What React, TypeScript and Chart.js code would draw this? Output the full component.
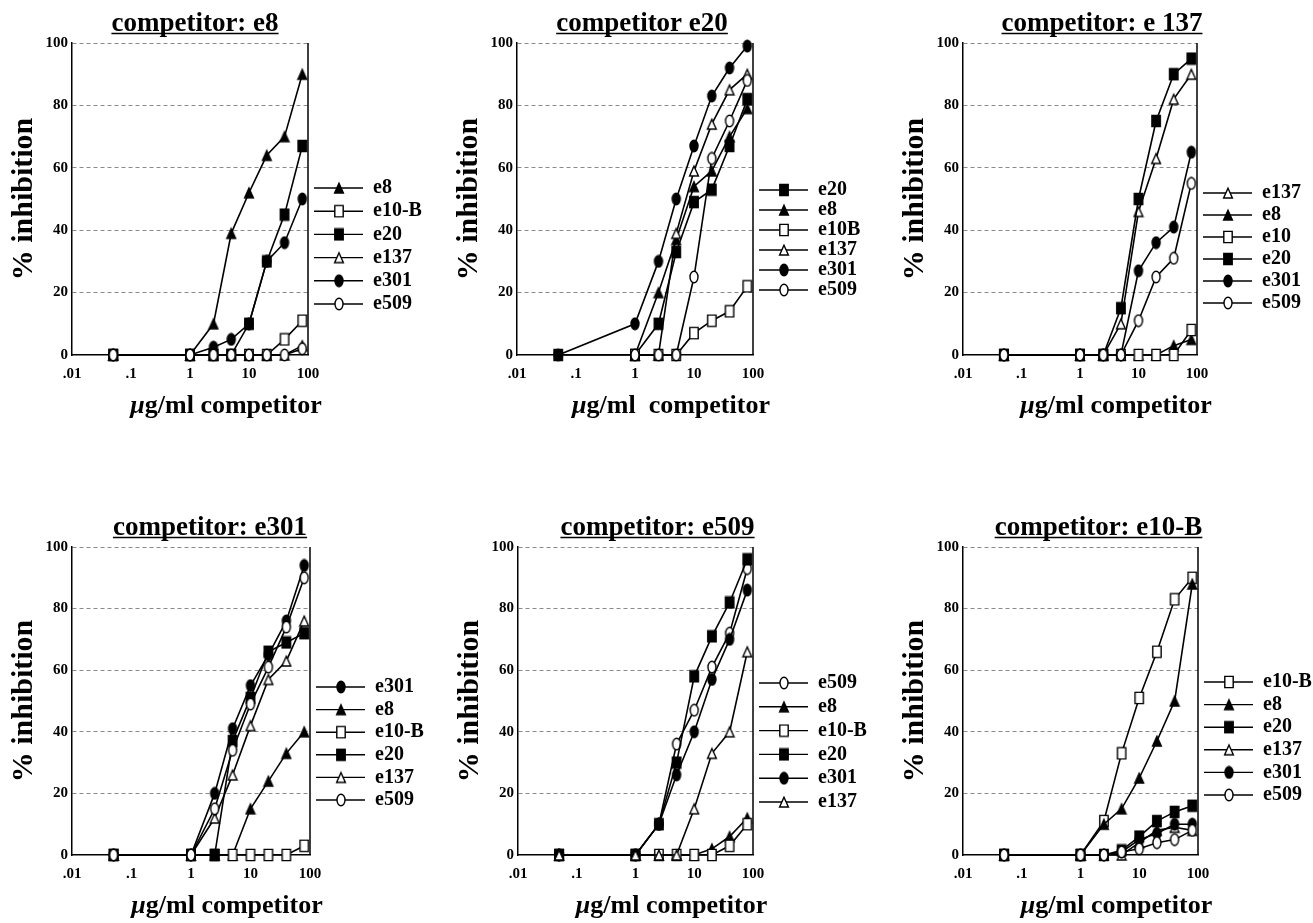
import React, { useEffect, useRef } from 'react';
import { Chart, registerables } from 'chart.js';

Chart.register(...registerables);

const FONT = '"Liberation Serif", "Times New Roman", serif';

// ---- shared axis data ----
const doses = [0.05, 1, 2.5, 5, 10, 20, 40, 80];
const xTickValues = [0.01, 0.1, 1, 10, 100];
const xTickLabels = ['.01', '.1', '1', '10', '100'];
const yTickValues = [0, 20, 40, 60, 80, 100];
const yAxisTitle = '% inhibition';

// ---- panel 1: competitor e8 ----
const p1Title = 'competitor: e8';
const p1XTitle = 'μg/ml competitor';
const p1Labels = ['e8', 'e10-B', 'e20', 'e137', 'e301', 'e509'];
const p1E8 = [0, 0, 10, 39, 52, 64, 70, 90];
const p1E10B = [0, 0, 0, 0, 0, 0, 5, 11];
const p1E20 = [0, 0, 0, 0, 10, 30, 45, 67];
const p1E137 = [0, 0, 0, 0, 0, 0, 0, 3];
const p1E301 = [0, 0, 2.5, 5, 10, 30, 36, 50];
const p1E509 = [0, 0, 0, 0, 0, 0, 0, 2];

// ---- panel 2: competitor e20 ----
const p2Title = 'competitor e20';
const p2XTitle = 'μg/ml  competitor';
const p2Labels = ['e20', 'e8', 'e10B', 'e137', 'e301', 'e509'];
const p2E20 = [0, 0, 10, 33, 49, 53, 67, 82];
const p2E8 = [null, 0, 20, 37, 54, 59, 70, 79];
const p2E10B = [null, 0, 0, 0, 7, 11, 14, 22];
const p2E137 = [null, 0, 0, 39, 59, 74, 85, 90];
const p2E301 = [0, 10, 30, 50, 67, 83, 92, 99];
const p2E509 = [null, 0, 0, 0, 25, 63, 75, 88];

// ---- panel 3: competitor e137 ----
const p3Title = 'competitor: e 137';
const p3XTitle = 'μg/ml competitor';
const p3Labels = ['e137', 'e8', 'e10', 'e20', 'e301', 'e509'];
const p3E137 = [0, 0, 0, 10, 46, 63, 82, 90];
const p3E8 = [0, 0, 0, 0, 0, 0, 3, 5];
const p3E10 = [0, 0, 0, 0, 0, 0, 0, 8];
const p3E20 = [0, 0, 0, 15, 50, 75, 90, 95];
const p3E301 = [0, 0, 0, 0, 27, 36, 41, 65];
const p3E509 = [0, 0, 0, 0, 11, 25, 31, 55];

// ---- panel 4: competitor e301 ----
const p4Title = 'competitor: e301';
const p4XTitle = 'μg/ml competitor';
const p4Labels = ['e301', 'e8', 'e10-B', 'e20', 'e137', 'e509'];
const p4E301 = [0, 0, 20, 41, 55, 65, 76, 94];
const p4E8 = [0, 0, 0, 0, 15, 24, 33, 40];
const p4E10B = [0, 0, 0, 0, 0, 0, 0, 3];
const p4E20 = [0, 0, 0, 37, 51, 66, 69, 72];
const p4E137 = [0, 0, 12, 26, 42, 57, 63, 76];
const p4E509 = [0, 0, 15, 34, 49, 61, 74, 90];

// ---- panel 5: competitor e509 ----
const p5Title = 'competitor: e509';
const p5XTitle = 'μg/ml competitor';
const p5Labels = ['e509', 'e8', 'e10-B', 'e20', 'e301', 'e137'];
const p5E509 = [0, 0, 10, 36, 47, 61, 72, 93];
const p5E8 = [0, 0, 0, 0, 0, 2, 6, 12];
const p5E10B = [0, 0, 0, 0, 0, 0, 3, 10];
const p5E20 = [0, 0, 10, 30, 58, 71, 82, 96];
const p5E301 = [0, 0, 10, 26, 40, 57, 70, 86];
const p5E137 = [0, 0, 0, 0, 15, 33, 40, 66];

// ---- panel 6: competitor e10-B ----
const p6Title = 'competitor: e10-B';
const p6XTitle = 'μg/ml competitor';
const p6Labels = ['e10-B', 'e8', 'e20', 'e137', 'e301', 'e509'];
const p6E10B = [0, 0, 11, 33, 51, 66, 83, 90];
const p6E8 = [0, 0, 10, 15, 25, 37, 50, 88];
const p6E20 = [0, 0, 0, 1.5, 6, 11, 14, 16];
const p6E137 = [0, 0, 0, 0, 4, 8, 9, 8];
const p6E301 = [0, 0, 0, 1, 5, 7, 10, 10];
const p6E509 = [0, 0, 0, 1, 2, 4, 5, 8];

type Values = (number | null)[];
type Spec = {
  title: string;
  xTitle: string;
  labels: string[];
  series: Values[];
  L: number; T: number; R: number; B: number;
  rightPad: number;
  titleDx: number;
  legendTop: number;
  legendGap: number;
};

const specs: Spec[] = [
  { title: p1Title, xTitle: p1XTitle, labels: p1Labels, series: [p1E8, p1E10B, p1E20, p1E137, p1E301, p1E509],
    L: 72, T: 43, R: 308, B: 355, rightPad: 125, titleDx: 5, legendTop: 188, legendGap: 23.2 },
  { title: p2Title, xTitle: p2XTitle, labels: p2Labels, series: [p2E20, p2E8, p2E10B, p2E137, p2E301, p2E509],
    L: 517, T: 43, R: 753, B: 355, rightPad: 125, titleDx: 7, legendTop: 190, legendGap: 20 },
  { title: p3Title, xTitle: p3XTitle, labels: p3Labels, series: [p3E137, p3E8, p3E10, p3E20, p3E301, p3E509],
    L: 963, T: 43, R: 1197, B: 355, rightPad: 116, titleDx: 22, legendTop: 193, legendGap: 22 },
  { title: p4Title, xTitle: p4XTitle, labels: p4Labels, series: [p4E301, p4E8, p4E10B, p4E20, p4E137, p4E509],
    L: 72, T: 547, R: 310, B: 855, rightPad: 125, titleDx: 19, legendTop: 687, legendGap: 22.6 },
  { title: p5Title, xTitle: p5XTitle, labels: p5Labels, series: [p5E509, p5E8, p5E10B, p5E20, p5E301, p5E137],
    L: 518, T: 547, R: 753, B: 855, rightPad: 125, titleDx: 22, legendTop: 683, legendGap: 23.8 },
  { title: p6Title, xTitle: p6XTitle, labels: p6Labels, series: [p6E10B, p6E8, p6E20, p6E137, p6E301, p6E509],
    L: 963, T: 547, R: 1198, B: 855, rightPad: 115, titleDx: 18, legendTop: 682, legendGap: 22.6 },
];

const PAD_L = 72;
const PAD_T = 43;
const PAD_B = 65;

const markerCache: Record<string, HTMLCanvasElement> = {};
function markerFor(label: string): HTMLCanvasElement {
  let kind = 'circ';
  let filled = true;
  if (label === 'e8') { kind = 'tri'; filled = true; }
  else if (label.startsWith('e10')) { kind = 'sq'; filled = false; }
  else if (label === 'e20') { kind = 'sq'; filled = true; }
  else if (label === 'e137') { kind = 'tri'; filled = false; }
  else if (label === 'e301') { kind = 'circ'; filled = true; }
  else if (label === 'e509') { kind = 'circ'; filled = false; }
  const key = kind + (filled ? 'f' : 'o');
  if (markerCache[key]) return markerCache[key];
  const c = document.createElement('canvas');
  c.width = 12;
  c.height = 14;
  const g = c.getContext('2d')!;
  g.fillStyle = filled ? '#000' : '#fff';
  g.strokeStyle = '#000';
  g.lineWidth = 1.4;
  g.beginPath();
  if (kind === 'circ') {
    g.ellipse(6, 7, 4, 5.8, 0, 0, Math.PI * 2);
  } else if (kind === 'sq') {
    g.rect(1.8, 1.4, 8.4, 11.2);
  } else {
    g.moveTo(6, 2.2);
    g.lineTo(10.4, 12);
    g.lineTo(1.6, 12);
    g.closePath();
  }
  g.fill();
  g.stroke();
  markerCache[key] = c;
  return c;
}

function Panel({ spec }: { spec: Spec }) {
  const ref = useRef<HTMLCanvasElement>(null);
  const W = spec.R - spec.L + PAD_L + spec.rightPad;
  const H = spec.B - spec.T + PAD_T + PAD_B;
  const left = spec.L - PAD_L;
  const top = spec.T - PAD_T;

  useEffect(() => {
    if (!ref.current) return;
    const n = spec.series.length;
    const datasets = spec.series.map((vals, i) => ({
      label: spec.labels[i],
      data: doses
        .map((d, k) => ({ x: d, y: vals[k] }))
        .filter((p) => p.y !== null && p.y !== undefined),
      borderColor: '#000',
      borderWidth: 1.6,
      backgroundColor: '#000',
      pointStyle: markerFor(spec.labels[i]),
      pointRadius: 5,
      pointHoverRadius: 5,
      tension: 0,
      clip: false as any,
      order: -i,
      fill: false,
    }));

    const decor = {
      id: 'decor' + spec.title,
      afterDraw(chart: any) {
        const { ctx, chartArea: a } = chart;
        ctx.save();
        // right frame line
        ctx.strokeStyle = '#000';
        ctx.lineWidth = 1.5;
        ctx.beginPath();
        ctx.moveTo(a.right, a.top);
        ctx.lineTo(a.right, a.bottom);
        ctx.stroke();

        // panel title, underlined
        const cx = (a.left + a.right) / 2 + spec.titleDx;
        ctx.font = `bold 27px ${FONT}`;
        ctx.fillStyle = '#000';
        ctx.textAlign = 'center';
        ctx.textBaseline = 'alphabetic';
        const ty = a.top - 12;
        ctx.fillText(spec.title, cx, ty);
        const tw = ctx.measureText(spec.title).width;
        ctx.lineWidth = 1.6;
        ctx.beginPath();
        ctx.moveTo(cx - tw / 2, ty + 2.5);
        ctx.lineTo(cx + tw / 2, ty + 2.5);
        ctx.stroke();

        // x axis title: italic mu + bold rest
        const mu = spec.xTitle.charAt(0);
        const rest = spec.xTitle.slice(1);
        const fI = `italic bold 26px ${FONT}`;
        const fB = `bold 26px ${FONT}`;
        ctx.font = fI;
        const w1 = ctx.measureText(mu).width;
        ctx.font = fB;
        const w2 = ctx.measureText(rest).width;
        const xc = (a.left + a.right) / 2 + 36;
        const x0 = xc - (w1 + w2) / 2;
        const xy = a.bottom + 58;
        ctx.textAlign = 'left';
        ctx.font = fI;
        ctx.fillText(mu, x0, xy);
        ctx.font = fB;
        ctx.fillText(rest, x0 + w1, xy);

        // legend
        ctx.font = `bold 20px ${FONT}`;
        ctx.textBaseline = 'middle';
        for (let i = 0; i < n; i++) {
          const y = spec.legendTop - top + i * spec.legendGap;
          ctx.strokeStyle = '#000';
          ctx.lineWidth = 1.4;
          ctx.beginPath();
          ctx.moveTo(a.right + 6, y);
          ctx.lineTo(a.right + 55, y);
          ctx.stroke();
          const m = markerFor(spec.labels[i]);
          ctx.drawImage(m, a.right + 31 - m.width / 2, y - m.height / 2);
          ctx.fillText(spec.labels[i], a.right + 65, y);
        }
        ctx.restore();
      },
    };

    const chart = new Chart(ref.current, {
      type: 'line',
      data: { datasets: datasets as any },
      options: {
        animation: false,
        responsive: false,
        devicePixelRatio: 1,
        layout: { padding: { left: 0, top: PAD_T, right: spec.rightPad, bottom: 0 } },
        plugins: {
          legend: { display: false },
          tooltip: { enabled: false },
          title: { display: false },
        },
        scales: {
          x: {
            type: 'logarithmic',
            position: 'bottom',
            min: 0.01,
            max: 100,
            afterBuildTicks: (s: any) => {
              s.ticks = xTickValues.map((v) => ({ value: v }));
            },
            afterFit: (s: any) => {
              s.height = PAD_B;
            },
            ticks: {
              autoSkip: false,
              maxRotation: 0,
              padding: 10,
              color: '#000',
              font: { family: FONT, size: 15, weight: 'bold' },
              callback: (v: any) => {
                let best = 0;
                for (let i = 0; i < xTickValues.length; i++) {
                  if (Math.abs(Math.log10(xTickValues[i]) - Math.log10(v)) < Math.abs(Math.log10(xTickValues[best]) - Math.log10(v))) best = i;
                }
                return xTickLabels[best];
              },
            },
            grid: { display: false, drawTicks: false },
            border: { display: true, color: '#000', width: 1.5 },
          },
          y: {
            type: 'linear',
            min: 0,
            max: 100,
            afterBuildTicks: (s: any) => {
              s.ticks = yTickValues.map((v) => ({ value: v }));
            },
            afterFit: (s: any) => {
              s.width = PAD_L;
            },
            ticks: {
              padding: 4,
              color: '#000',
              font: { family: FONT, size: 15, weight: 'bold' },
            },
            grid: {
              drawTicks: false,
              lineWidth: 1,
              color: (c: any) => (c.tick && c.tick.value === 0 ? 'rgba(0,0,0,0)' : '#8a8a8a'),
            },
            border: { display: true, color: '#000', width: 1.5, dash: [4, 3] },
            title: {
              display: true,
              text: yAxisTitle,
              color: '#000',
              font: { family: FONT, size: 30, weight: 'bold' },
              padding: { top: 6, bottom: 0 },
            },
          },
        },
      } as any,
      plugins: [decor],
    });
    return () => chart.destroy();
  }, []);

  return (
    <div style={{ position: 'absolute', left, top, width: W, height: H }}>
      <canvas ref={ref} width={W} height={H} style={{ width: W, height: H, display: 'block' }} />
    </div>
  );
}

export default function App() {
  return (
    <div style={{ position: 'absolute', left: 0, top: 0, width: 1313, height: 923, background: '#fff', overflow: 'hidden' }}>
      {specs.map((s, i) => (
        <Panel key={i} spec={s} />
      ))}
    </div>
  );
}
